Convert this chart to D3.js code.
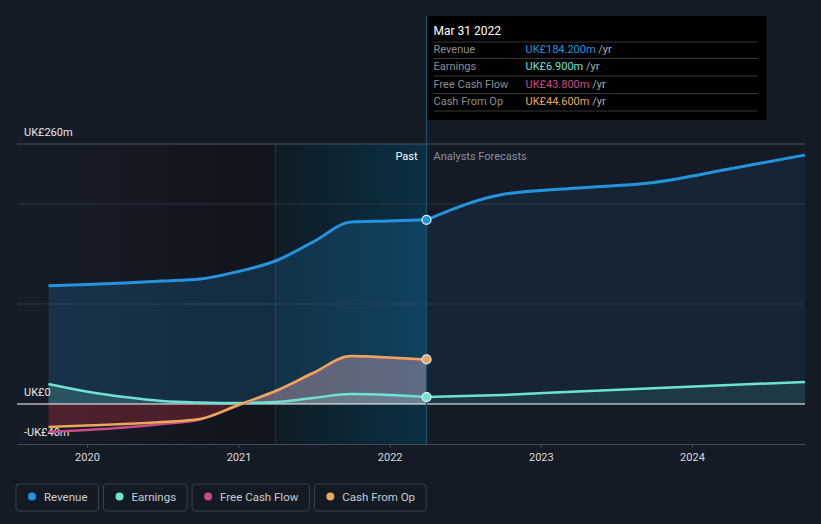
<!DOCTYPE html>
<html>
<head>
<meta charset="utf-8">
<script src="https://cdn.jsdelivr.net/npm/d3@7"></script>
<style>
  body { margin: 0; background: #151b26; }
  svg { display: block; font-family: Roboto, "Open Sans", sans-serif; }
</style>
</head>
<body>
<div id="chart"></div>
<script>
// chart values
var pastDates = ["2019-09-30", "2019-12-31", "2020-03-31", "2020-06-30", "2020-09-30", "2020-12-31",
  "2021-03-31", "2021-06-30", "2021-09-30", "2021-12-31", "2022-03-31"];
var revenuePast = [118.3, 119.5, 121, 123, 125, 132.5, 143, 162, 182, 183, 184.2];
var earningsPast = [20, 12.5, 7, 3, 1.5, 1, 2, 6, 10, 9, 6.9];
var fcfPast = [-28, -26, -23.5, -20, -15.5, -1.5, 12.5, 30.5, 47.5, 46, 43.8];
var cfoPast = [-23, -21.5, -20, -18, -15, -1, 13, 31, 48, 46.5, 44.6];

var forecastDates = ["2022-03-31", "2022-09-30", "2023-03-31", "2023-09-30", "2024-03-31", "2024-09-30"];
var revenueForecast = [184.2, 209.5, 216, 221.5, 235, 249];
var earningsForecast = [6.9, 9, 12.5, 15.8, 19, 22];

var seriesNames = ["Revenue", "Earnings", "Free Cash Flow", "Cash From Op"];
var seriesColors = ["#2394df", "#6fe3d1", "#cc4a8c", "#e8a95b"];
var tooltipDate = "Mar 31 2022";
var tooltipValues = ["UK£184.200m", "UK£6.900m", "UK£43.800m", "UK£44.600m"];

var yTickValues = [260, 0, -40];
var yTickLabels = ["UK£260m", "UK£0", "-UK£40m"];
var gridValues = [260, 200, 100];
var xDomainDates = ["2019-07-16", "2024-09-30"];
var highlightDates = ["2021-03-31", "2022-03-31"];

var svgWidth = 821;
var svgHeight = 524;
var plot = { left: 17, right: 805, top: 144, bottom: 444 };

var parse = d3.timeParse("%Y-%m-%d");

var svg = d3.select("#chart")
  .append("svg")
  .attr("width", svgWidth)
  .attr("height", svgHeight);

var defs = svg.append("defs");

var x = d3.scaleTime()
  .domain(xDomainDates.map(parse))
  .range([plot.left, plot.right]);

var y = d3.scaleLinear()
  .domain([-40, 260])
  .range([plot.bottom, plot.top]);

function rows(dates, values) {
  return dates.map(function(d, i) { return { date: parse(d), value: values[i] }; });
}

var revP = rows(pastDates, revenuePast);
var earnP = rows(pastDates, earningsPast);
var fcfP = rows(pastDates, fcfPast);
var cfoP = rows(pastDates, cfoPast);
var revF = rows(forecastDates, revenueForecast);
var earnF = rows(forecastDates, earningsForecast);

// background
svg.append("rect")
  .attr("width", svgWidth)
  .attr("height", svgHeight)
  .attr("fill", "#151b26");

var hx0 = x(parse(highlightDates[0]));
var hx1 = x(parse(highlightDates[1]));

var pastGrad = defs.append("linearGradient").attr("id", "pastGrad");
pastGrad.append("stop").attr("offset", "0%").attr("stop-color", "#171d28");
pastGrad.append("stop").attr("offset", "100%").attr("stop-color", "#10141b");

svg.append("rect")
  .attr("x", plot.left)
  .attr("y", plot.top)
  .attr("width", hx0 - plot.left)
  .attr("height", plot.bottom - plot.top)
  .attr("fill", "url(#pastGrad)");

var hiGrad = defs.append("linearGradient").attr("id", "hiGrad");
hiGrad.append("stop").attr("offset", "0%").attr("stop-color", "#0e1c25");
hiGrad.append("stop").attr("offset", "100%").attr("stop-color", "#0b3044");

svg.append("rect")
  .attr("x", hx0)
  .attr("y", plot.top)
  .attr("width", hx1 - hx0)
  .attr("height", plot.bottom - plot.top)
  .attr("fill", "url(#hiGrad)");

svg.append("line")
  .attr("x1", hx0).attr("x2", hx0)
  .attr("y1", plot.top).attr("y2", plot.bottom)
  .attr("stroke", "#1a3a4a");

// gridlines
svg.selectAll(".grid")
  .data(gridValues)
  .enter()
  .append("line")
  .attr("x1", plot.left).attr("x2", plot.right)
  .attr("y1", d => y(d)).attr("y2", d => y(d))
  .attr("stroke", (d, i) => i === 0 ? "#4a505a" : "#2b3340")
  .attr("stroke-width", 1);

// areas
var curve = d3.curveMonotoneX;
var area = d3.area().curve(curve)
  .x(d => x(d.date))
  .y0(y(0))
  .y1(d => y(d.value));
var line = d3.line().curve(curve)
  .x(d => x(d.date))
  .y(d => y(d.value));

svg.append("path").datum(revP).attr("d", area)
  .attr("fill", seriesColors[0]).attr("fill-opacity", 0.19);
svg.append("path").datum(revF).attr("d", area)
  .attr("fill", seriesColors[0]).attr("fill-opacity", 0.09);

svg.append("path").datum(earnP).attr("d", area)
  .attr("fill", seriesColors[1]).attr("fill-opacity", 0.2);
svg.append("path").datum(earnF).attr("d", area)
  .attr("fill", seriesColors[1]).attr("fill-opacity", 0.1);

// cash flow area, split at zero
defs.append("clipPath").attr("id", "above")
  .append("rect")
  .attr("x", plot.left).attr("y", plot.top)
  .attr("width", plot.right - plot.left).attr("height", y(0) - plot.top);
defs.append("clipPath").attr("id", "below")
  .append("rect")
  .attr("x", plot.left).attr("y", y(0))
  .attr("width", plot.right - plot.left).attr("height", plot.bottom - y(0));

svg.append("path").datum(cfoP).attr("d", area)
  .attr("clip-path", "url(#above)")
  .attr("fill", "#e0b0bc").attr("fill-opacity", 0.38);
svg.append("path").datum(cfoP).attr("d", area)
  .attr("clip-path", "url(#below)")
  .attr("fill", "#b02c3c").attr("fill-opacity", 0.36);

// zero line and bottom axis
svg.append("line")
  .attr("x1", plot.left).attr("x2", plot.right)
  .attr("y1", y(0)).attr("y2", y(0))
  .attr("stroke", "#ffffff").attr("stroke-width", 1.2);

var xAxis = d3.axisBottom(x)
  .ticks(d3.timeYear.every(1))
  .tickFormat(d3.timeFormat("%Y"))
  .tickSize(4)
  .tickSizeOuter(0);

var xg = svg.append("g")
  .attr("transform", `translate(0, ${plot.bottom})`)
  .call(xAxis);
xg.select(".domain").attr("stroke", "#454b55");
xg.selectAll(".tick line").attr("stroke", "#454b55");
xg.selectAll(".tick text")
  .attr("fill", "#d8dadd")
  .attr("font-size", "11px")
  .attr("font-family", "Roboto, sans-serif")
  .attr("dy", "0.9em");

// y labels
svg.selectAll(".ylabel")
  .data(yTickValues)
  .enter()
  .append("text")
  .attr("x", 24)
  .attr("y", d => y(d) - 8)
  .attr("fill", "#e6e7e9")
  .attr("font-size", "11px")
  .text((d, i) => yTickLabels[i]);

// lines
svg.append("path").datum(earnP).attr("d", line)
  .attr("fill", "none").attr("stroke", seriesColors[1]).attr("stroke-width", 2.5);
svg.append("path").datum(earnF).attr("d", line)
  .attr("fill", "none").attr("stroke", seriesColors[1]).attr("stroke-width", 2.5);
svg.append("path").datum(fcfP).attr("d", line)
  .attr("fill", "none").attr("stroke", seriesColors[2]).attr("stroke-width", 2.5);
svg.append("path").datum(cfoP).attr("d", line)
  .attr("fill", "none").attr("stroke", seriesColors[3]).attr("stroke-width", 2.5);
svg.append("path").datum(revP).attr("d", line)
  .attr("fill", "none").attr("stroke", seriesColors[0]).attr("stroke-width", 3);
svg.append("path").datum(revF).attr("d", line)
  .attr("fill", "none").attr("stroke", seriesColors[0]).attr("stroke-width", 3);

// Past / forecast labels
svg.append("text")
  .attr("x", hx1 - 9).attr("y", 160)
  .attr("text-anchor", "end")
  .attr("fill", "#ffffff")
  .attr("font-size", "11px")
  .text("Past");
svg.append("text")
  .attr("x", hx1 + 7).attr("y", 160)
  .attr("fill", "#8a8f98")
  .attr("font-size", "11px")
  .text("Analysts Forecasts");

// tooltip
var tipTop = 16;
svg.append("line")
  .attr("x1", hx1).attr("x2", hx1)
  .attr("y1", tipTop).attr("y2", plot.bottom)
  .attr("stroke", "#1f5068").attr("stroke-width", 1.2);

svg.append("rect")
  .attr("x", hx1 + 1).attr("y", tipTop)
  .attr("width", 339).attr("height", 104)
  .attr("fill", "#000000");

svg.append("text")
  .attr("x", hx1 + 7).attr("y", tipTop + 19)
  .attr("fill", "#ffffff")
  .attr("font-size", "12px")
  .text(tooltipDate);

var sepY = [42, 58.5, 76, 93.5, 111];
svg.selectAll(".sep")
  .data(sepY)
  .enter()
  .append("line")
  .attr("x1", hx1 + 7).attr("x2", hx1 + 331)
  .attr("y1", d => d).attr("y2", d => d)
  .attr("stroke", "#34383f");

var tipRows = svg.selectAll(".tiprow")
  .data(seriesNames)
  .enter()
  .append("g")
  .attr("transform", (d, i) => `translate(${hx1 + 7}, ${53 + i * 17.4})`);

tipRows.append("text")
  .attr("fill", "#8b8f96")
  .attr("font-size", "11px")
  .text(d => d);

var valText = tipRows.append("text")
  .attr("x", 92)
  .attr("font-size", "11px");
valText.append("tspan")
  .attr("fill", (d, i) => seriesColors[i])
  .text((d, i) => tooltipValues[i]);
valText.append("tspan")
  .attr("fill", "#a9adb3")
  .text(" /yr");

// end markers
var markers = [
  { value: earningsPast[earningsPast.length - 1], color: seriesColors[1] },
  { value: cfoPast[cfoPast.length - 1], color: seriesColors[3] },
  { value: revenuePast[revenuePast.length - 1], color: seriesColors[0] }
];
svg.selectAll(".marker")
  .data(markers)
  .enter()
  .append("circle")
  .attr("cx", hx1)
  .attr("cy", d => y(d.value))
  .attr("r", 4.5)
  .attr("fill", d => d.color)
  .attr("stroke", "#e8eef2")
  .attr("stroke-width", 1.2);

// legend
var legend = svg.append("g").attr("transform", "translate(16, 484)");
var lx = 0;
seriesNames.forEach(function(name, i) {
  var g = legend.append("g").attr("transform", `translate(${lx}, 0)`);
  var box = g.append("rect")
    .attr("height", 27)
    .attr("rx", 3)
    .attr("fill", "#141a24")
    .attr("stroke", "#3a404b");
  g.append("circle")
    .attr("cx", 16).attr("cy", 12.5)
    .attr("r", 4)
    .attr("fill", seriesColors[i]);
  var t = g.append("text")
    .attr("x", 28).attr("y", 16.5)
    .attr("fill", "#c9ccd1")
    .attr("font-size", "11.5px")
    .text(name);
  var w = 28 + t.node().getComputedTextLength() + 11;
  box.attr("width", w);
  lx += w + 5;
});
</script>
</body>
</html>
